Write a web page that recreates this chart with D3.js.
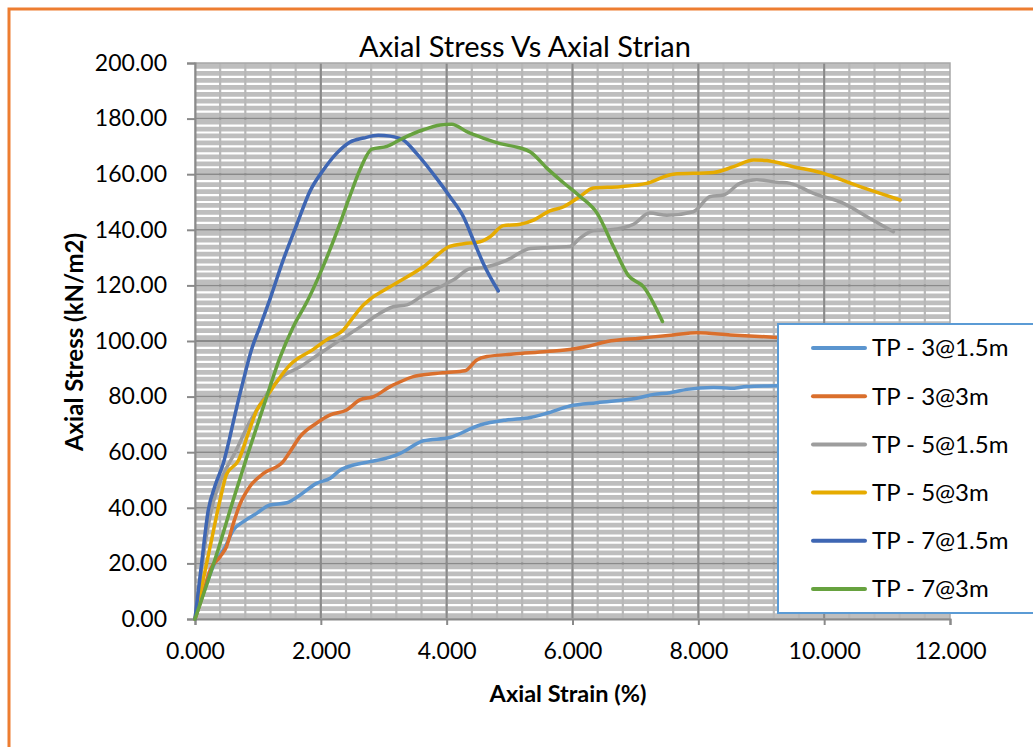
<!DOCTYPE html>
<html>
<head>
<meta charset="utf-8">
<script src="https://cdn.jsdelivr.net/npm/d3@7"></script>
<style>
  html, body { margin: 0; padding: 0; background: #ffffff; }
  svg { display: block; }
  text { font-family: Lato, "Open Sans", "Liberation Sans", sans-serif; fill: #000; }
</style>
</head>
<body>
<svg id="chart" width="1033" height="747"></svg>
<script>
// Axial strain (%) / axial stress (kN/m2) readings for each test pit
const seriesNames = ["TP - 3@1.5m", "TP - 3@3m", "TP - 5@1.5m", "TP - 5@3m", "TP - 7@1.5m", "TP - 7@3m"];
const seriesColors = ["#5b95cf", "#da6f2c", "#9d9d9d", "#e6ab00", "#3e66b3", "#67a23f"];

const tp3a_strain = [0, 0.13, 0.29, 0.48, 0.61, 0.77, 0.98, 1.19, 1.46, 1.67, 1.93, 2.15, 2.31, 2.52, 2.78, 3.10, 3.26, 3.63, 4.05, 4.53, 4.95, 5.33, 5.59, 5.96, 6.39, 7.02, 7.29, 7.55, 7.82, 8.24, 8.51, 8.77, 9.25, 9.80];
const tp3a_stress = [0, 9, 19, 26, 32, 35, 38, 41, 41.8, 44.6, 48.8, 50.6, 53.6, 55.4, 56.6, 58.2, 59.6, 64.1, 65.3, 69.8, 71.6, 72.5, 74, 76.6, 77.8, 79.4, 80.8, 81.4, 82.6, 83.3, 83, 83.6, 83.9, 84.2];

const tp3b_strain = [0, 0.13, 0.24, 0.40, 0.50, 0.61, 0.72, 0.87, 1.09, 1.40, 1.51, 1.67, 1.93, 2.15, 2.41, 2.62, 2.84, 3.10, 3.21, 3.47, 3.74, 4.00, 4.29, 4.48, 4.64, 5.06, 5.59, 6.01, 6.23, 6.55, 7.07, 7.60, 7.98, 8.51, 9.25, 9.80];
const tp3b_stress = [0, 9.2, 17.6, 22.4, 26, 34.4, 41.6, 47.6, 52.4, 56.6, 60.2, 65.6, 70.4, 73.4, 75.2, 78.8, 80, 83.6, 84.8, 87.2, 88.1, 88.7, 89.3, 93.2, 94.4, 95.3, 96.2, 97.1, 98, 99.8, 101, 102.2, 103, 102.2, 101.3, 100.8];

const tp5a_strain = [0, 0.19, 0.29, 0.45, 0.64, 0.85, 1.03, 1.19, 1.35, 1.67, 1.99, 2.31, 2.62, 2.94, 3.15, 3.37, 3.63, 3.90, 4.11, 4.37, 4.58, 4.95, 5.33, 5.96, 6.12, 6.33, 6.60, 6.97, 7.23, 7.50, 7.92, 8.19, 8.40, 8.66, 8.93, 9.25, 9.46, 9.83, 10.31, 10.68, 11.10];
const tp5a_stress = [0, 31, 42, 52, 60, 70, 77, 82.4, 86.5, 90.7, 95.6, 100.4, 105, 110, 112.3, 113, 116.5, 119.5, 122, 126, 126.4, 129, 133.3, 134, 137, 139.7, 140, 142, 146, 145.2, 146.5, 152, 152.5, 156.7, 158, 157.1, 156.7, 153.1, 149.5, 144.7, 139.3];

const tp5b_strain = [0, 0.24, 0.40, 0.50, 0.69, 0.85, 0.98, 1.14, 1.32, 1.51, 1.88, 2.09, 2.36, 2.52, 2.68, 2.78, 3.10, 3.63, 4.05, 4.27, 4.53, 4.69, 4.90, 5.17, 5.38, 5.64, 5.86, 6.12, 6.33, 6.76, 7.18, 7.60, 8.24, 8.56, 8.88, 9.09, 9.51, 9.94, 10.57, 11.21];
const tp5b_stress = [0, 26, 43, 52, 57, 67, 75, 80, 86, 91.4, 97, 100.4, 104, 108.7, 113, 115, 119.5, 126.7, 134, 135, 135.7, 137.5, 141.5, 142, 143.5, 146.8, 148.3, 152, 155, 155.5, 156.7, 160, 160.6, 162.7, 165.1, 164.9, 162.7, 160.6, 155.5, 150.7];

const tp7a_strain = [0, 0.10, 0.21, 0.32, 0.45, 0.56, 0.64, 0.77, 0.90, 1.03, 1.19, 1.40, 1.62, 1.83, 2.04, 2.25, 2.46, 2.68, 2.91, 3.10, 3.31, 3.52, 3.84, 4.05, 4.27, 4.42, 4.58, 4.82];
const tp7a_stress = [0, 19, 39, 48, 56, 66, 74, 86, 97, 105, 115, 129, 142, 154, 161.5, 167.5, 171.5, 173, 174, 173.7, 172.3, 167.5, 158.5, 152, 144.5, 136.5, 128, 118];

const tp7b_strain = [0, 0.34, 0.61, 0.82, 1.14, 1.35, 1.56, 1.80, 2.04, 2.25, 2.46, 2.62, 2.81, 3.05, 3.31, 3.63, 3.90, 4.08, 4.32, 4.58, 4.85, 5.14, 5.33, 5.60, 5.80, 6.12, 6.39, 6.65, 6.89, 7.13, 7.43];
const tp7b_stress = [0, 23, 43, 58, 80, 94, 105, 115, 127, 139, 152, 161.5, 169, 170, 173, 176, 177.7, 178, 175.3, 173, 171, 169.6, 168, 162, 158, 152, 146, 134, 123.5, 119.5, 107];

const xTicks = [0, 2, 4, 6, 8, 10, 12];
const yTicks = [0, 20, 40, 60, 80, 100, 120, 140, 160, 180, 200];

const strainSets = [tp3a_strain, tp3b_strain, tp5a_strain, tp5b_strain, tp7a_strain, tp7b_strain];
const stressSets = [tp3a_stress, tp3b_stress, tp5a_stress, tp5b_stress, tp7a_stress, tp7b_stress];
const series = seriesNames.map((name, i) => ({
  name,
  color: seriesColors[i],
  points: strainSets[i].map((s, j) => ({ x: s, y: stressSets[i][j] }))
}));

const svg = d3.select("#chart");
const W = 1033, H = 747;
const plot = { left: 195, right: 950, top: 63, bottom: 619 };

const x = d3.scaleLinear().domain([0, 12]).range([plot.left, plot.right]);
const y = d3.scaleLinear().domain([0, 200]).range([plot.bottom, plot.top]);

// Outer chart frame
svg.append("rect")
  .attr("x", 9).attr("y", 9)
  .attr("width", W + 40).attr("height", H + 40)
  .attr("fill", "#ffffff")
  .attr("stroke", "#ed7d31").attr("stroke-width", 3);

// Plot area background
svg.append("rect")
  .attr("x", plot.left).attr("y", plot.top)
  .attr("width", plot.right - plot.left).attr("height", plot.bottom - plot.top)
  .attr("fill", "#bebebe");

const grid = svg.append("g");

// Minor horizontal stripes
grid.selectAll("line.hmin")
  .data(d3.range(2.5, 200, 2.5))
  .join("line")
  .attr("x1", plot.left).attr("x2", plot.right)
  .attr("y1", d => y(d)).attr("y2", d => y(d))
  .attr("stroke", "#ffffff").attr("stroke-width", 2.2);

// Minor vertical gridlines
grid.selectAll("line.vmin")
  .data(d3.range(0.4, 12, 0.4))
  .join("line")
  .attr("x1", d => x(d)).attr("x2", d => x(d))
  .attr("y1", plot.top).attr("y2", plot.bottom)
  .attr("stroke", "#b7b7b7").attr("stroke-width", 2.2);

// Major gridlines
grid.selectAll("line.hmaj")
  .data(yTicks.slice(1, -1))
  .join("line")
  .attr("x1", plot.left).attr("x2", plot.right)
  .attr("y1", d => y(d)).attr("y2", d => y(d))
  .attr("stroke", "#8a8a8a").attr("stroke-width", 2);

grid.selectAll("line.vmaj")
  .data(xTicks.slice(1, -1))
  .join("line")
  .attr("x1", d => x(d)).attr("x2", d => x(d))
  .attr("y1", plot.top).attr("y2", plot.bottom)
  .attr("stroke", "#8a8a8a").attr("stroke-width", 2);

// Plot border
svg.append("rect")
  .attr("x", plot.left).attr("y", plot.top)
  .attr("width", plot.right - plot.left).attr("height", plot.bottom - plot.top)
  .attr("fill", "none")
  .attr("stroke", "#a8a8a8").attr("stroke-width", 1.5);

// Axes
const yAxis = d3.axisLeft(y).tickValues(yTicks).tickFormat(d3.format(".2f")).tickSize(8).tickPadding(20);
const xAxis = d3.axisBottom(x).tickValues(xTicks).tickFormat(d3.format(".3f")).tickSize(6).tickPadding(18);

const gy = svg.append("g").attr("transform", `translate(${plot.left},0)`).call(yAxis);
const gx = svg.append("g").attr("transform", `translate(0,${plot.bottom})`).call(xAxis);

[gy, gx].forEach(g => {
  g.select(".domain").attr("stroke", "#8a8a8a").attr("stroke-width", 2);
  g.selectAll(".tick line").attr("stroke", "#8a8a8a").attr("stroke-width", 2);
  g.selectAll(".tick text")
    .style("font-family", "Lato, 'Open Sans', sans-serif")
    .style("font-size", "23px")
    .attr("fill", "#000");
});

// Curves
const line = d3.line()
  .x(d => x(d.x))
  .y(d => y(d.y))
  .curve(d3.curveMonotoneX);

svg.append("g")
  .selectAll("path")
  .data(series)
  .join("path")
  .attr("d", d => line(d.points))
  .attr("fill", "none")
  .attr("stroke", d => d.color)
  .attr("stroke-width", 3.5)
  .attr("stroke-linejoin", "round")
  .attr("stroke-linecap", "round");

// Titles
svg.append("text")
  .attr("x", 525).attr("y", 57)
  .attr("text-anchor", "middle")
  .style("font-size", "29px")
  .text("Axial Stress Vs Axial Strian");

svg.append("text")
  .attr("x", 568).attr("y", 702)
  .attr("text-anchor", "middle")
  .style("font-size", "23.5px")
  .style("font-weight", "bold")
  .text("Axial Strain (%)");

svg.append("text")
  .attr("transform", "translate(83,342) rotate(-90)")
  .attr("text-anchor", "middle")
  .style("font-size", "24px")
  .style("font-weight", "bold")
  .text("Axial Stress (kN/m2)");

// Legend
const legend = svg.append("g");
legend.append("rect")
  .attr("x", 778).attr("y", 324)
  .attr("width", 300).attr("height", 289)
  .attr("fill", "#ffffff")
  .attr("stroke", "#5b9bd5").attr("stroke-width", 2);

const item = legend.selectAll("g.item")
  .data(series)
  .join("g")
  .attr("transform", (d, i) => `translate(0,${348 + i * 48.2})`);

item.append("line")
  .attr("x1", 813).attr("x2", 865)
  .attr("y1", 0).attr("y2", 0)
  .attr("stroke", d => d.color)
  .attr("stroke-width", 4)
  .attr("stroke-linecap", "round");

item.append("text")
  .attr("x", 872).attr("y", 0)
  .attr("dy", "0.35em")
  .style("font-size", "24px")
  .text(d => d.name);
</script>
</body>
</html>
